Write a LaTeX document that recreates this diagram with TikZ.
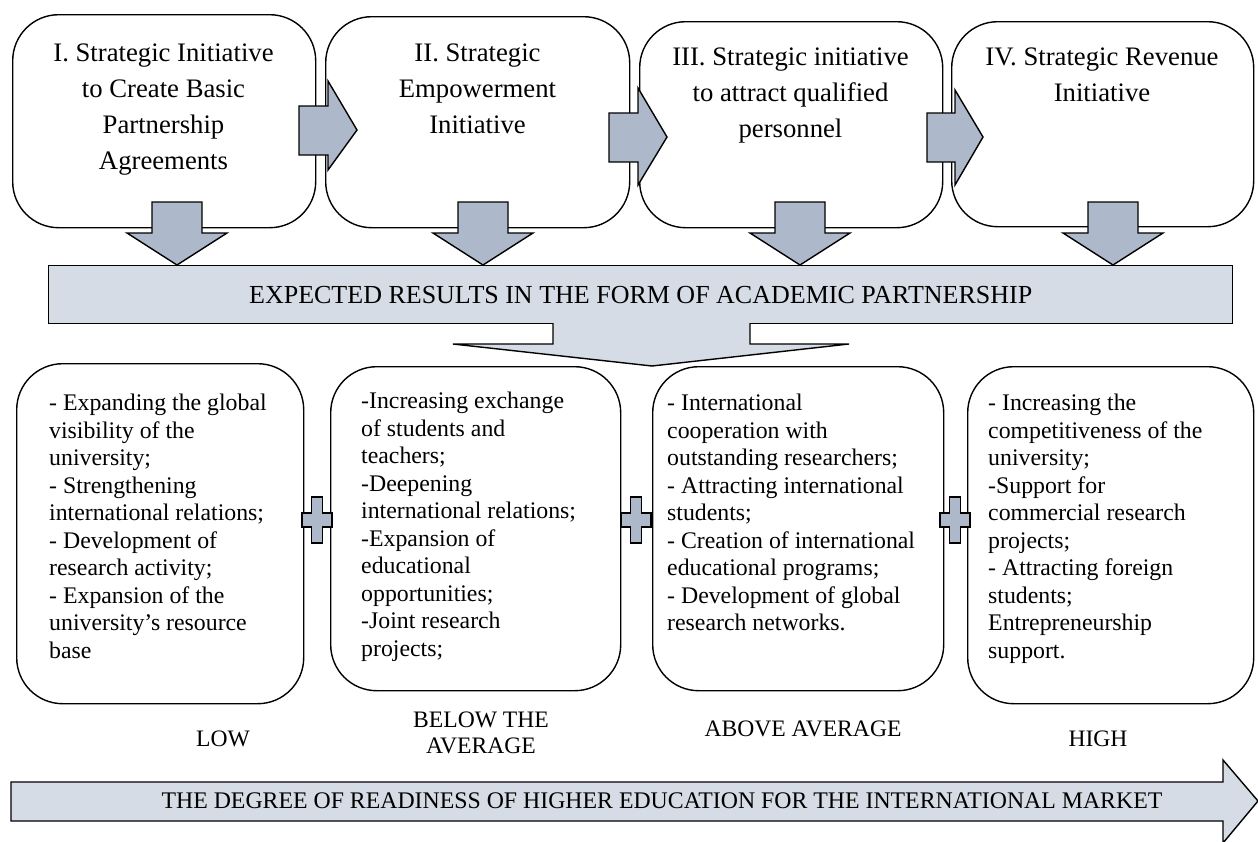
\documentclass[tikz,border=0pt]{standalone}
\usepackage{fontspec}
\setmainfont{Liberation Serif}
\definecolor{arrowdark}{HTML}{ADB9CA}
\definecolor{bandlight}{HTML}{D6DCE5}
\begin{document}
\begin{tikzpicture}[x=1pt,y=-1pt,
  box/.style={draw, line width=1.4pt, rounded corners=46pt, anchor=north west, inner sep=0pt},
  toptext/.style={anchor=north, align=center, inner sep=0pt, font=\fontsize{26.7}{36}\selectfont},
  bottext/.style={anchor=north west, align=left, inner sep=0pt, font=\fontsize{23.8}{27.5}\selectfont},
  darkarrow/.style={draw, line width=1.4pt, fill=arrowdark, line join=miter},
  lightarrow/.style={draw, line width=1.4pt, fill=bandlight, line join=miter},
  lbl/.style={align=center, inner sep=0pt, font=\fontsize{23.6}{26}\selectfont},
  downarrow/.pic={\draw[darkarrow] (-25,-63) -- (25,-63) -- (25,-32) -- (50,-32) -- (0,0) -- (-50,-32) -- (-25,-32) -- cycle;},
  plussign/.pic={\draw[darkarrow] (-5.5,-23) -- (5.5,-23) -- (5.5,-7) -- (15,-7) -- (15,7) -- (5.5,7) -- (5.5,23) -- (-5.5,23) -- (-5.5,7) -- (-15,7) -- (-15,-7) -- (-5.5,-7) -- cycle;}
]
\useasboundingbox (0,0) rectangle (1258,841);

% top boxes
\node[box, minimum width=303pt, minimum height=213pt] (t1) at (12,14) {};
\node[box, minimum width=304pt, minimum height=211pt] (t2) at (325,16) {};
\node[box, minimum width=303pt, minimum height=206pt] (t3) at (639,21) {};
\node[box, minimum width=302pt, minimum height=205pt] (t4) at (951,21) {};

\node[toptext] (t1x) at (163.5,44) {I. Strategic Initiative\\to Create Basic\\Partnership\\Agreements};
\node[toptext] (t2x) at (477.5,44) {II. Strategic\\Empowerment\\Initiative};
\node[toptext] (t3x) at (790.5,48) {III. Strategic initiative\\to attract qualified\\personnel};
\node[toptext] (t4x) at (1102,48) {IV. Strategic Revenue\\Initiative};

% right arrows between top boxes
\draw[darkarrow] (299,106) -- (328,106) -- (328,81) -- (357,130) -- (328,170) -- (328,155) -- (299,155) -- cycle;
\draw[darkarrow] (609,113) -- (638,113) -- (638,88) -- (667,137) -- (638,185) -- (638,162) -- (609,162) -- cycle;
\draw[darkarrow] (927,113) -- (955,113) -- (955,90) -- (983,137) -- (955,185) -- (955,162) -- (927,162) -- cycle;

% band
\node[draw, line width=1.4pt, fill=bandlight, anchor=north west, inner sep=0pt,
      minimum width=1184pt, minimum height=58pt,
      font=\fontsize{26}{30}\selectfont] (band) at (48,265) {EXPECTED RESULTS IN THE FORM OF ACADEMIC PARTNERSHIP};

% down arrows into band
\pic at (177,265) {downarrow};
\pic at (483,265) {downarrow};
\pic at (800,265) {downarrow};
\pic at (1113,265) {downarrow};

% arrow from band
\fill[bandlight] (553,322) -- (553,344) -- (453,344) -- (652,366) -- (849,344) -- (750,344) -- (750,322) -- cycle;
\draw[line width=1.4pt, line join=miter] (553,323) -- (553,344) -- (453,344) -- (652,366) -- (849,344) -- (750,344) -- (750,323);

% bottom boxes
\node[box, minimum width=287pt, minimum height=340pt] (b1) at (16,363) {};
\node[box, minimum width=290pt, minimum height=324pt] (b2) at (330,366) {};
\node[box, minimum width=291pt, minimum height=324pt] (b3) at (652,366) {};
\node[box, minimum width=286pt, minimum height=337pt] (b4) at (967,366) {};

\node[bottext] (b1x) at (49,394) {- Expanding the global\\visibility of the\\university;\\- Strengthening\\international relations;\\- Development of\\research activity;\\- Expansion of the\\university’s resource\\base};
\node[bottext] (b2x) at (361,392) {-Increasing exchange\\of students and\\teachers;\\-Deepening\\international relations;\\-Expansion of\\educational\\opportunities;\\-Joint research\\projects;};
\node[bottext] (b3x) at (667,394) {- International\\cooperation with\\outstanding researchers;\\- Attracting international\\students;\\- Creation of international\\educational programs;\\- Development of global\\research networks.};
\node[bottext] (b4x) at (988,394) {- Increasing the\\competitiveness of the\\university;\\-Support for\\commercial research\\projects;\\- Attracting foreign\\students;\\Entrepreneurship\\support.};

% plus signs
\pic at (317,520) {plussign};
\pic at (636,520) {plussign};
\pic at (955,520) {plussign};

% level labels
\node[lbl] (low) at (223,739) {LOW};
\node[lbl] (below) at (481,733) {BELOW THE\\AVERAGE};
\node[lbl] (above) at (803,729) {ABOVE AVERAGE};
\node[lbl] (high) at (1098,739) {HIGH};

% bottom arrow
\draw[lightarrow] (11,782) -- (1223,782) -- (1223,760) -- (1258,801) -- (1223,843) -- (1223,821) -- (11,821) -- cycle;
\node[inner sep=0pt, font=\fontsize{23.8}{28}\selectfont] (degree) at (662,801) {THE DEGREE OF READINESS OF HIGHER EDUCATION FOR THE INTERNATIONAL MARKET};
\end{tikzpicture}
\end{document}
